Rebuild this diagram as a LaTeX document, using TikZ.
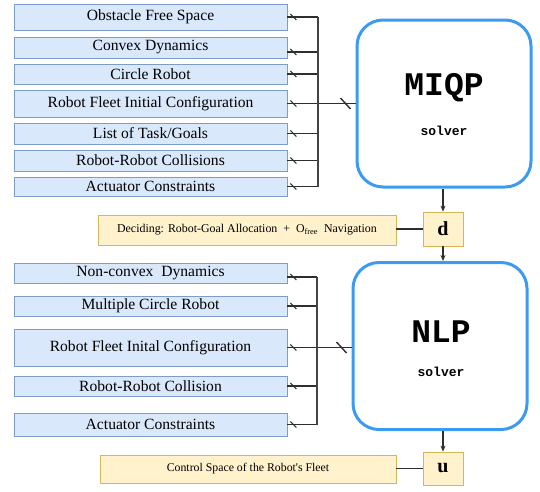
\documentclass[tikz,border=0pt]{standalone}
\usepackage{fontspec}
\setmainfont{Liberation Serif}
\newfontfamily\solverfont{Liberation Mono}
\usetikzlibrary{arrows.meta,calc}
\definecolor{inFill}{HTML}{DAE8FC}
\definecolor{inLine}{HTML}{7C9CCB}
\definecolor{outFill}{HTML}{FFF2CC}
\definecolor{outLine}{HTML}{D6B656}
\definecolor{solverLine}{HTML}{3C9BF0}
\definecolor{wireCol}{HTML}{2E2E2E}
\tikzset{
  inbox/.style={draw=inLine, fill=inFill, line width=0.8pt, minimum width=273pt,
    inner sep=0pt, font=\fontsize{15.6}{17}\selectfont},
  outbox/.style={draw=outLine, fill=outFill, line width=0.8pt, inner sep=0pt},
  varbox/.style={draw=outLine, fill=outFill, line width=0.8pt, inner sep=0pt,
    minimum width=40pt, font=\fontsize{20}{22}\selectfont\bfseries},
  solverbox/.style={draw=solverLine, fill=white, line width=3pt, rounded corners=26pt, inner sep=0pt},
  wire/.style={draw=wireCol, line width=1.1pt},
  buswire/.style={draw=wireCol!90!white, line width=1.7pt},
  arrow/.style={draw=wireCol, line width=1.1pt, -{Stealth[length=6pt,width=5pt]}},
}
% small bus marker right next to a box edge
\newcommand\wiretick[1]{\draw[wire] ([shift={(3,-3)}]#1) -- ++(6,6);}
\begin{document}
\begin{tikzpicture}[x=1pt,y=-1pt]
\useasboundingbox (0,0) rectangle (540,491);

% ---------- first stage: MIQP ----------
\node[inbox, minimum height=26pt] (a1) at (150.5,17)  {Obstacle Free Space};
\node[inbox, minimum height=21pt] (a2) at (150.5,47.5) {Convex Dynamics};
\node[inbox, minimum height=20pt] (a3) at (150.5,74)  {Circle Robot};
\node[inbox, minimum height=27pt] (a4) at (150.5,103.5) {Robot Fleet Initial Configuration};
\node[inbox, minimum height=21pt] (a5) at (150.5,133.5) {List of Task/Goals};
\node[inbox, minimum height=21pt] (a6) at (150.5,160.5) {Robot-Robot Collisions};
\node[inbox, minimum height=19pt] (a7) at (150.5,186.5) {Actuator Constraints};

\node[solverbox, minimum width=174pt, minimum height=167pt] (miqp) at (444,103.5) {};
\node (miqpT) at (444,88) {\solverfont\bfseries\fontsize{33}{35}\selectfont MIQP};
\node (miqpS) at (444,131) {\solverfont\bfseries\fontsize{13}{15}\selectfont solver};

% wire end points on the box edges
\coordinate (a1e) at (a1.east);
\coordinate (a2e) at ([yshift=-4.5pt]a2.east);
\coordinate (a3e) at (a3.east);
\coordinate (a4e) at (a4.east);
\coordinate (a5e) at (a5.east);
\coordinate (a6e) at (a6.east);
\coordinate (a7e) at (a7.east);
\coordinate (busA) at (318,0);

\foreach \p in {a1e,a2e,a3e,a5e,a6e,a7e}{
  \draw[wire] (\p) -- (\p -| busA);
  \wiretick{\p}
}
\draw[wire] (a4e) -- (a4e -| miqp.west);
\wiretick{a4e}
\draw[buswire] (a1e -| busA) -- (a7e -| busA);
\coordinate (slashA) at ([xshift=-10pt]a4e -| miqp.west);
\draw[wire, line width=1.4pt] ([shift={(-5,-5.5)}]slashA) -- ++(10,11);

% decision variables
\node[varbox, minimum height=34pt] (d) at (443,229) {d};
\node[outbox, minimum width=298pt, minimum height=30pt] (dl) at (247,230)
  {\fontsize{11.9}{13}\selectfont Deciding: Robot-Goal Allocation\ \ +\ \ O\textsubscript{free}\ \ Navigation};
\draw[wire] (dl.east |- d.west) -- (d.west);
\draw[arrow] (miqp.south -| d.north) -- (d.north);

% ---------- second stage: NLP ----------
\node[inbox, minimum height=20pt] (b1) at (150.5,273) {Non-convex\ \ Dynamics};
\node[inbox, minimum height=20pt] (b2) at (150.5,306) {Multiple Circle Robot};
\node[inbox, minimum height=37pt] (b3) at (150.5,347.5) {Robot Fleet Inital Configuration};
\node[inbox, minimum height=20pt] (b4) at (150.5,386) {Robot-Robot Collision};
\node[inbox, minimum height=23pt] (b5) at (150.5,424.5) {Actuator Constraints};

\node[solverbox, minimum width=174pt, minimum height=167pt] (nlp) at (440,346) {};
\node (nlpT) at (441,332) {\solverfont\bfseries\fontsize{33}{35}\selectfont NLP};
\node (nlpS) at (441,372) {\solverfont\bfseries\fontsize{13}{15}\selectfont solver};

\draw[arrow] (d.south) -- (d.south |- nlp.north);

\coordinate (b1e) at ([yshift=-4pt]b1.east);
\coordinate (b2e) at (b2.east);
\coordinate (b3e) at (b3.east);
\coordinate (b4e) at (b4.east);
\coordinate (b5e) at (b5.east);
\coordinate (busB) at (317,0);

\foreach \p in {b1e,b2e,b4e,b5e}{
  \draw[wire] (\p) -- (\p -| busB);
  \wiretick{\p}
}
\draw[wire] (b3e) -- (b3e -| nlp.west);
\wiretick{b3e}
\draw[buswire] (b1e -| busB) -- (b5e -| busB);
\coordinate (slashB) at ([xshift=-10pt]b3e -| nlp.west);
\draw[wire, line width=1.4pt] ([shift={(-5,-5.5)}]slashB) -- ++(10,11);

% control variables
\node[varbox, minimum height=33pt] (u) at (443,468.5) {u};
\node[outbox, minimum width=296pt, minimum height=28pt] (ul) at (248,469)
  {\fontsize{11.8}{13}\selectfont Control Space of the Robot\textquotesingle s Fleet};
\draw[wire] (ul.east |- u.west) -- (u.west);
\draw[arrow] (nlp.south -| u.north) -- (u.north);
\end{tikzpicture}
\end{document}
